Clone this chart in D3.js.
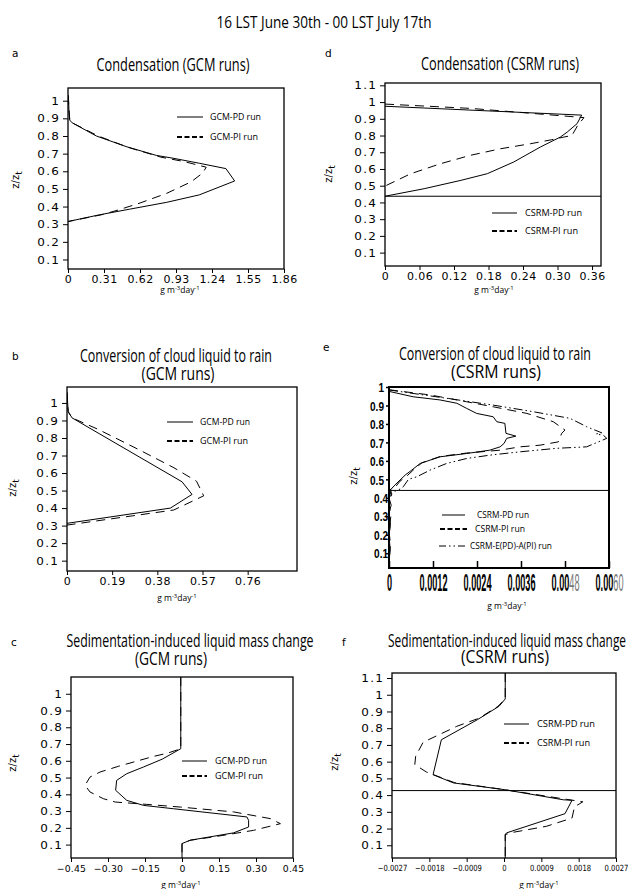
<!DOCTYPE html>
<html>
<head>
<meta charset="utf-8">
<script src="https://cdn.jsdelivr.net/npm/d3@7/dist/d3.min.js"></script>
<style>
  html, body { margin: 0; padding: 0; background: #fff; }
  svg { display: block; }
</style>
</head>
<body>
<script>
// Vertical profiles of liquid-water tendencies, 16 LST June 30th - 00 LST July 17th.
// Every profile is a list of [tendency (g m^-3 day^-1), normalised height z/z_t].

// ---- axis ticks ----
const zTicks = [0.1, 0.2, 0.3, 0.4, 0.5, 0.6, 0.7, 0.8, 0.9, 1];
const zTickLabels = ["0.1", "0.2", "0.3", "0.4", "0.5", "0.6", "0.7", "0.8", "0.9", "1"];
const zTicksTall = [0.1, 0.2, 0.3, 0.4, 0.5, 0.6, 0.7, 0.8, 0.9, 1, 1.1];
const zTickLabelsTall = ["0.1", "0.2", "0.3", "0.4", "0.5", "0.6", "0.7", "0.8", "0.9", "1", "1.1"];

const condGcmTicks = [0, 0.31, 0.62, 0.93, 1.24, 1.55, 1.86];
const condGcmTickLabels = ["0", "0.31", "0.62", "0.93", "1.24", "1.55", "1.86"];
const condCsrmTicks = [0, 0.06, 0.12, 0.18, 0.24, 0.30, 0.36];
const condCsrmTickLabels = ["0", "0.06", "0.12", "0.18", "0.24", "0.30", "0.36"];
const convGcmTicks = [0, 0.19, 0.38, 0.57, 0.76];
const convGcmTickLabels = ["0", "0.19", "0.38", "0.57", "0.76"];
const convCsrmTicks = [0, 0.0012, 0.0024, 0.0036, 0.0048, 0.0060];
const convCsrmTickLabels = ["0", "0.0012", "0.0024", "0.0036", "0.0048", "0.0060"];
const sedGcmTicks = [-0.45, -0.30, -0.15, 0, 0.15, 0.30, 0.45];
const sedGcmTickLabels = ["\u22120.45", "\u22120.30", "\u22120.15", "0", "0.15", "0.30", "0.45"];
const sedCsrmTicks = [-0.0027, -0.0018, -0.0009, 0, 0.0009, 0.0018, 0.0027];
const sedCsrmTickLabels = ["\u22120.0027", "\u22120.0018", "\u22120.0009", "0", "0.0009", "0.0018", "0.0027"];

// ---- run names ----
const gcmRuns = ["GCM-PD run", "GCM-PI run"];
const csrmRuns = ["CSRM-PD run", "CSRM-PI run", "CSRM-E(PD)-A(PI) run"];

// ---- cloud-base level in the CSRM runs (z/z_t) ----
const csrmBaseCond = 0.437;
const csrmBaseConv = 0.44;
const csrmBaseSed = 0.427;

// ---- condensation ----
const condGcmPD = [[0.003,1.03],[0.008,0.95],[0.015,0.89],[0.035,0.875],[0.244,0.80],[0.50,0.74],[0.76,0.69],
  [0.904,0.674],[1.134,0.645],[1.36,0.615],[1.435,0.545],[1.13,0.466],[0.85,0.424],[0.53,0.385],[0.27,0.353],[0,0.315]];
const condGcmPI = [[0.003,1.03],[0.008,0.95],[0.015,0.89],[0.035,0.875],[0.26,0.80],[0.52,0.735],[0.8,0.68],
  [1.0,0.655],[1.19,0.623],[1.16,0.59],[1.06,0.54],[0.85,0.475],[0.62,0.42],[0.43,0.38],[0.3,0.355],[0,0.315]];
const condCsrmPD = [[0,0.975],[0.342,0.922],[0.334,0.871],[0.317,0.821],[0.305,0.791],[0.27,0.731],
  [0.224,0.642],[0.178,0.572],[0.132,0.532],[0.068,0.482],[0,0.437]];
const condCsrmPI = [[0,0.988],[0.15,0.962],[0.346,0.907],[0.335,0.86],[0.325,0.80],[0.31,0.79],[0.29,0.775],
  [0.253,0.751],[0.201,0.721],[0.149,0.682],[0.097,0.632],[0.045,0.572],[0,0.498]];

// ---- conversion of cloud liquid to rain ----
const convGcmPD = [[0,1.06],[0.005,0.95],[0.021,0.915],[0.484,0.55],[0.526,0.478],[0.435,0.40],[0,0.313]];
const convGcmPI = [[0,1.06],[0.005,0.95],[0.021,0.915],[0.13,0.85],[0.3,0.735],[0.45,0.63],[0.545,0.553],
  [0.575,0.47],[0.449,0.389],[0,0.303]];
const convCsrmPD = [[0,0.984],[0.00003,0.975],[0.00066,0.947],[0.00139,0.93],[0.00185,0.912],[0.00212,0.884],
  [0.00239,0.857],[0.00284,0.839],[0.00294,0.812],[0.00316,0.803],[0.00319,0.749],[0.00346,0.734],[0.00321,0.722],
  [0.00314,0.695],[0.00303,0.676],[0.00275,0.658],[0.00212,0.640],[0.00139,0.622],[0.00085,0.586],[0.00062,0.55],
  [0.00044,0.523],[0.0003,0.496],[0.00016,0.469],[0.00003,0.441],[0.00008,0.42],[0,0.40],[0.00006,0.36],[0,0.32],
  [0.00004,0.25],[0,0.2],[0.00003,0.12],[0,0.05]];
const convCsrmPI = [[0,0.985],[0.00112,0.957],[0.00212,0.92],[0.00284,0.893],[0.00376,0.857],[0.00448,0.812],
  [0.0048,0.767],[0.00471,0.749],[0.00462,0.703],[0.00412,0.685],[0.00357,0.676],[0.00303,0.658],[0.0021,0.642],
  [0.0014,0.624],[0.0009,0.59],[0.00065,0.548],[0.0005,0.52],[0.0003,0.49],[0.00018,0.46],[0,0.441],
  [0.00007,0.41],[0,0.37],[0.00005,0.3],[0,0.22],[0.00004,0.15],[0,0.05]];
const convCsrmEA = [[0,0.984],[0.00157,0.939],[0.00284,0.902],[0.00394,0.866],[0.00494,0.830],[0.00539,0.785],
  [0.0058,0.752],[0.00565,0.746],[0.00585,0.738],[0.00594,0.722],[0.00539,0.676],[0.00457,0.668],[0.00357,0.649],
  [0.00275,0.631],[0.00212,0.613],[0.00157,0.586],[0.00112,0.55],[0.00076,0.514],[0.00053,0.5],[0.00039,0.46],
  [0.00025,0.441],[0.00003,0.43]];

// ---- sedimentation-induced liquid mass change ----
const sedGcmPD = [[-0.005,1.1],[-0.005,0.672],[-0.08,0.61],[-0.156,0.563],[-0.224,0.523],[-0.265,0.483],
  [-0.269,0.424],[-0.224,0.364],[-0.156,0.334],[-0.035,0.314],[0.263,0.265],[0.27,0.245],[0.27,0.205],
  [0.209,0.17],[0.033,0.126],[0,0.106],[0,0.02]];
const sedGcmPI = [[-0.005,1.1],[-0.005,0.672],[-0.06,0.645],[-0.116,0.626],[-0.258,0.567],[-0.332,0.533],
  [-0.373,0.503],[-0.393,0.454],[-0.373,0.414],[-0.319,0.374],[-0.271,0.354],[-0.143,0.34],[-0.007,0.324],
  [0.209,0.295],[0.358,0.255],[0.399,0.225],[0.29,0.185],[0.128,0.146],[0.033,0.126],[0,0.106],[0,0.02]];
const sedCsrmPD = [[0.00003,1.13],[0.00003,0.975],[-0.00012,0.931],[-0.00064,0.851],[-0.00151,0.731],
  [-0.00171,0.522],[-0.00122,0.473],[0,0.433],[0.00143,0.372],[0.00164,0.369],[0.00147,0.289],[0.00006,0.174],
  [0.00003,0.164],[0.00003,0.024]];
const sedCsrmPI = [[0.00003,1.13],[0.00003,0.975],[-0.00015,0.93],[-0.0006,0.86],[-0.00114,0.811],
  [-0.00195,0.716],[-0.00213,0.632],[-0.00215,0.582],[-0.00187,0.538],[-0.0012,0.475],[0,0.433],[0.0015,0.375],
  [0.0019,0.36],[0.0017,0.33],[0.00164,0.263],[0.00103,0.214],[0.00023,0.178],[0.00003,0.164],[0.00003,0.024]];

// ---------------------------------------------------------------------------
const TEXT_FONT = "'Liberation Sans Narrow','Open Sans',sans-serif";
const TICK_FONT = "'DejaVu Sans',Verdana,sans-serif";
const NARROW_BOLD = "'Liberation Sans Narrow','Liberation Sans',Arial,sans-serif";

const LINE_STYLES = {
  solid:   { dash: null, width: 1 },
  dashed:  { dash: "9,6", width: 1 },
  dashdot: { dash: "9,3,1.5,3,1.5,3", width: 1 }
};
const KEY_STYLES = {
  solid:   { dash: null, width: 1 },
  dashed:  { dash: "5,2.5", width: 1.8 },
  dashdot: { dash: "7,3,1.5,3,1.5,3", width: 1 }
};

const svg = d3.select("body").append("svg")
  .attr("width", 629).attr("height", 889)
  .attr("font-family", TEXT_FONT);

function fit(sel, w) {
  return sel.attr("textLength", w).attr("lengthAdjust", "spacingAndGlyphs");
}

// horizontal stretch of tick labels about their anchor
function stretch(axisG, sx) {
  axisG.selectAll(".tick text").each(function () {
    const t = d3.select(this);
    const x0 = +t.attr("x") || 0;
    t.attr("x", x0 / sx).attr("transform", `scale(${sx},1)`);
  });
}

function styleAxis(ag, font) {
  ag.select(".domain").remove();
  ag.attr("font-family", font.family).attr("font-size", font.size)
    .attr("font-weight", font.weight || null);
  ag.selectAll(".tick text")
    .attr("font-size", font.size).attr("font-family", font.family)
    .attr("font-weight", font.weight || null)
    .attr("letter-spacing", font.spacing || 0).attr("fill", "#000");
  ag.selectAll(".tick line").attr("stroke", "#000").attr("stroke-width", font.tickWidth || 1);
}

function drawPanel(p) {
  const x = d3.scaleLinear().domain(p.xDomain).range([p.left, p.right]);
  const y = d3.scaleLinear().domain(p.yDomain).range([p.bottom, p.top]);
  const g = svg.append("g");

  g.append("clipPath").attr("id", "plot-" + p.letter)
    .append("rect").attr("x", p.left).attr("y", p.top)
    .attr("width", p.right - p.left).attr("height", p.bottom - p.top);

  // x axis
  const gx = g.append("g").attr("transform", `translate(0,${p.bottom})`)
    .call(d3.axisBottom(x).tickValues(p.xTicks).tickFormat((d, i) => p.xTickLabels[i])
      .tickSizeInner(p.xTickLen).tickSizeOuter(0).tickPadding(p.xTickPad));
  styleAxis(gx, p.xFont);
  if (p.xTailFrom != null) {
    gx.selectAll(".tick text").each(function (d, i) {
      if (i < p.xTailFrom) return;
      const s = p.xTickLabels[i];
      const t = d3.select(this).text(null);
      t.append("tspan").text(s.slice(0, -2));
      t.append("tspan").attr("font-weight", "normal").attr("fill", "#777").text(s.slice(-2));
    });
  }
  if (p.xFont.fitWidth) {
    const sample = gx.selectAll(".tick text").nodes()[1];
    stretch(gx, p.xFont.fitWidth / sample.getComputedTextLength());
  } else if (p.xFont.sx) stretch(gx, p.xFont.sx);

  // z axis
  const gy = g.append("g").attr("transform", `translate(${p.left},0)`)
    .call(d3.axisLeft(y).tickValues(p.yTicks).tickFormat((d, i) => p.yTickLabels[i])
      .tickSizeInner(p.yTickLen).tickSizeOuter(0).tickPadding(p.yTickPad));
  styleAxis(gy, p.yFont);
  gy.selectAll(".tick text").attr("dy", "0.36em");
  if (p.yNudge) {
    gy.selectAll(".tick text").filter(d => d <= p.yNudge.below)
      .attr("x", +gy.select(".tick text").attr("x") + p.yNudge.dx);
  }
  if (p.yFont.fitWidth) {
    const nodes = gy.selectAll(".tick text").nodes();
    const sample = nodes[nodes.length - 2];
    stretch(gy, p.yFont.fitWidth / sample.getComputedTextLength());
  } else if (p.yFont.sx) stretch(gy, p.yFont.sx);

  // profiles
  const line = d3.line().x(d => x(d[0])).y(d => y(d[1]));
  const plot = g.append("g").attr("clip-path", `url(#plot-${p.letter})`);
  p.series.forEach(s => {
    const st = LINE_STYLES[s.style];
    plot.append("path").datum(s.data).attr("d", line)
      .attr("fill", "none").attr("stroke", "#000")
      .attr("stroke-width", st.width).attr("stroke-dasharray", st.dash)
      .attr("stroke-linejoin", "round");
  });
  if (p.baseZ != null) {
    plot.append("line").attr("x1", p.left).attr("x2", p.right)
      .attr("y1", y(p.baseZ)).attr("y2", y(p.baseZ))
      .attr("stroke", "#000").attr("stroke-width", 1);
  }

  // frame
  g.append("rect").attr("x", p.left).attr("y", p.top)
    .attr("width", p.right - p.left).attr("height", p.bottom - p.top)
    .attr("fill", "none").attr("stroke", "#000").attr("stroke-width", p.frameWidth);

  // key
  p.legend.forEach(k => {
    const st = KEY_STYLES[k.style];
    g.append("line").attr("x1", k.x1).attr("x2", k.x2).attr("y1", k.y).attr("y2", k.y)
      .attr("stroke", "#000").attr("stroke-width", st.width).attr("stroke-dasharray", st.dash);
    fit(g.append("text").attr("x", k.tx).attr("y", k.y + 3.3)
      .attr("font-size", k.size || 9.5).text(k.text), k.tw);
  });

  // titles
  p.title.forEach(t => {
    fit(g.append("text").attr("x", t.x).attr("y", t.y).attr("text-anchor", "middle")
      .attr("font-size", 17.5).text(t.text), t.w);
  });

  // panel letter
  g.append("text").attr("x", p.tag[0]).attr("y", p.tag[1])
    .attr("font-family", TICK_FONT).attr("font-size", 10.5).text(p.letter);

  // z/z_t label
  const zl = g.append("text")
    .attr("transform", `translate(${p.zLabel[0]},${p.zLabel[1]}) rotate(-90)`)
    .attr("text-anchor", "middle").attr("font-family", TICK_FONT).attr("font-size", 10);
  zl.append("tspan").text("z/z");
  zl.append("tspan").attr("dy", 3).attr("font-size", 9).text("t");

  // unit label
  const ul = g.append("text").attr("x", p.unit[0]).attr("y", p.unit[1])
    .attr("text-anchor", "middle").attr("font-family", "'Open Sans',sans-serif").attr("font-size", 8.5);
  ul.append("tspan").text("g m");
  ul.append("tspan").attr("dy", -3.5).attr("font-size", 6).text("-3");
  ul.append("tspan").attr("dy", 3.5).text("day");
  ul.append("tspan").attr("dy", -3.5).attr("font-size", 6).text("-1");
}

// ---- fonts shared by the axes ----
const tickFontX = { family: TICK_FONT, size: 10, spacing: 0.4, sx: 1.1 };
const tickFontY = { family: TICK_FONT, size: 10, spacing: 1, sx: 1.2 };

// ---- page title ----
fit(svg.append("text").attr("x", 324).attr("y", 28).attr("text-anchor", "middle")
  .attr("font-size", 17).text("16 LST June 30th - 00 LST July 17th"), 215);

// a: condensation, GCM
drawPanel({
  letter: "a", left: 68, right: 284, top: 88, bottom: 269,
  xDomain: [0, 1.86], yDomain: [0.046, 1.072],
  xTicks: condGcmTicks, xTickLabels: condGcmTickLabels, xTickLen: 4, xTickPad: 3, xFont: tickFontX,
  yTicks: zTicks, yTickLabels: zTickLabels, yTickLen: 5, yTickPad: 3, yFont: tickFontY,
  frameWidth: 1.3,
  series: [{ data: condGcmPD, style: "solid" }, { data: condGcmPI, style: "dashed" }],
  legend: [
    { style: "solid", x1: 177, x2: 203, y: 117, tx: 210, text: gcmRuns[0], tw: 51 },
    { style: "dashed", x1: 177, x2: 203, y: 137, tx: 210, text: gcmRuns[1], tw: 48 }
  ],
  title: [{ text: "Condensation (GCM runs)", x: 173, y: 71, w: 153 }],
  tag: [12, 57], zLabel: [19, 180], unit: [180, 293]
});

// d: condensation, CSRM
drawPanel({
  letter: "d", left: 385, right: 601, top: 83, bottom: 266,
  xDomain: [0, 0.3756], yDomain: [0.02, 1.114], baseZ: csrmBaseCond,
  xTicks: condCsrmTicks, xTickLabels: condCsrmTickLabels, xTickLen: 4, xTickPad: 3, xFont: tickFontX,
  yTicks: zTicksTall, yTickLabels: zTickLabelsTall, yTickLen: 5, yTickPad: 3, yFont: tickFontY,
  frameWidth: 1.3,
  series: [{ data: condCsrmPD, style: "solid" }, { data: condCsrmPI, style: "dashed" }],
  legend: [
    { style: "solid", x1: 492, x2: 517, y: 213, tx: 525, text: csrmRuns[0], tw: 57 },
    { style: "dashed", x1: 492, x2: 517, y: 231, tx: 525, text: csrmRuns[1], tw: 53 }
  ],
  title: [{ text: "Condensation (CSRM runs)", x: 500, y: 70, w: 158 }],
  tag: [325, 57], zLabel: [332, 174], unit: [494, 293]
});

// b: conversion of cloud liquid to rain, GCM
drawPanel({
  letter: "b", left: 67, right: 297, top: 387, bottom: 571,
  xDomain: [0, 0.9675], yDomain: [0.041, 1.091],
  xTicks: convGcmTicks, xTickLabels: convGcmTickLabels, xTickLen: 4, xTickPad: 3, xFont: tickFontX,
  yTicks: zTicks, yTickLabels: zTickLabels, yTickLen: 5, yTickPad: 3, yFont: tickFontY,
  frameWidth: 1.3,
  series: [{ data: convGcmPD, style: "solid" }, { data: convGcmPI, style: "dashed" }],
  legend: [
    { style: "solid", x1: 167, x2: 193, y: 422, tx: 200, text: gcmRuns[0], tw: 50 },
    { style: "dashed", x1: 167, x2: 193, y: 441, tx: 200, text: gcmRuns[1], tw: 48 }
  ],
  title: [
    { text: "Conversion of cloud liquid to rain", x: 176, y: 362, w: 192 },
    { text: "(GCM runs)", x: 178, y: 380, w: 73 }
  ],
  tag: [12, 360], zLabel: [16, 488], unit: [177, 601]
});

// e: conversion of cloud liquid to rain, CSRM
drawPanel({
  letter: "e", left: 389, right: 609, top: 387, bottom: 568,
  xDomain: [0, 0.006], yDomain: [0.02, 1.0], baseZ: csrmBaseConv,
  xTicks: convCsrmTicks, xTickLabels: convCsrmTickLabels, xTickLen: -7, xTickPad: 7, xTailFrom: 4,
  xFont: { family: NARROW_BOLD, size: 23, weight: "bold", fitWidth: 28, tickWidth: 1.5 },
  yTicks: zTicks, yTickLabels: zTickLabels, yTickLen: 3, yTickPad: 2,
  yFont: { family: NARROW_BOLD, size: 13, weight: "bold", fitWidth: 14, tickWidth: 1.5 },
  yNudge: { below: 0.45, dx: 4 },
  frameWidth: 2,
  series: [
    { data: convCsrmPD, style: "solid" },
    { data: convCsrmPI, style: "dashed" },
    { data: convCsrmEA, style: "dashdot" }
  ],
  legend: [
    { style: "solid", x1: 442, x2: 465, y: 515, tx: 477, text: csrmRuns[0], tw: 52, size: 8.5 },
    { style: "dashed", x1: 440, x2: 467, y: 529, tx: 475, text: csrmRuns[1], tw: 50, size: 8.5 },
    { style: "dashdot", x1: 439, x2: 465, y: 546, tx: 470, text: csrmRuns[2], tw: 82, size: 8.5 }
  ],
  title: [
    { text: "Conversion of cloud liquid to rain", x: 495, y: 360, w: 192 },
    { text: "(CSRM runs)", x: 496, y: 378, w: 90 }
  ],
  tag: [323, 351], zLabel: [357, 476], unit: [507, 609]
});

// c: sedimentation, GCM
drawPanel({
  letter: "c", left: 71, right: 293, top: 677, bottom: 858,
  xDomain: [-0.45, 0.45], yDomain: [0.02, 1.1],
  xTicks: sedGcmTicks, xTickLabels: sedGcmTickLabels, xTickLen: 4, xTickPad: 3,
  xFont: { family: TICK_FONT, size: 9.5, spacing: 0.2, sx: 0.98 },
  yTicks: zTicks, yTickLabels: zTickLabels, yTickLen: 5, yTickPad: 3, yFont: tickFontY,
  frameWidth: 1.3,
  series: [{ data: sedGcmPD, style: "solid" }, { data: sedGcmPI, style: "dashed" }],
  legend: [
    { style: "solid", x1: 182, x2: 207, y: 761, tx: 215, text: gcmRuns[0], tw: 52 },
    { style: "dashed", x1: 182, x2: 207, y: 776, tx: 215, text: gcmRuns[1], tw: 48 }
  ],
  title: [
    { text: "Sedimentation-induced liquid mass change", x: 190, y: 647, w: 247 },
    { text: "(GCM runs)", x: 171, y: 665, w: 72 }
  ],
  tag: [11, 646], zLabel: [16, 763], unit: [181, 888]
});

// f: sedimentation, CSRM
drawPanel({
  letter: "f", left: 392, right: 616, top: 673, bottom: 858,
  xDomain: [-0.0027, 0.0027], yDomain: [0.024, 1.13], baseZ: csrmBaseSed,
  xTicks: sedCsrmTicks, xTickLabels: sedCsrmTickLabels, xTickLen: 4, xTickPad: 3,
  xFont: { family: TICK_FONT, size: 8.5, spacing: 0, sx: 0.8 },
  yTicks: zTicksTall, yTickLabels: zTickLabelsTall, yTickLen: 5, yTickPad: 3, yFont: tickFontY,
  frameWidth: 1.3,
  series: [{ data: sedCsrmPD, style: "solid" }, { data: sedCsrmPI, style: "dashed" }],
  legend: [
    { style: "solid", x1: 504, x2: 529, y: 724, tx: 537, text: csrmRuns[0], tw: 58 },
    { style: "dashed", x1: 504, x2: 529, y: 743, tx: 537, text: csrmRuns[1], tw: 53 }
  ],
  title: [
    { text: "Sedimentation-induced liquid mass change", x: 507, y: 647, w: 238 },
    { text: "(CSRM runs)", x: 505, y: 663, w: 88 }
  ],
  tag: [342, 646], zLabel: [338, 762], unit: [539, 888]
});
</script>
</body>
</html>
